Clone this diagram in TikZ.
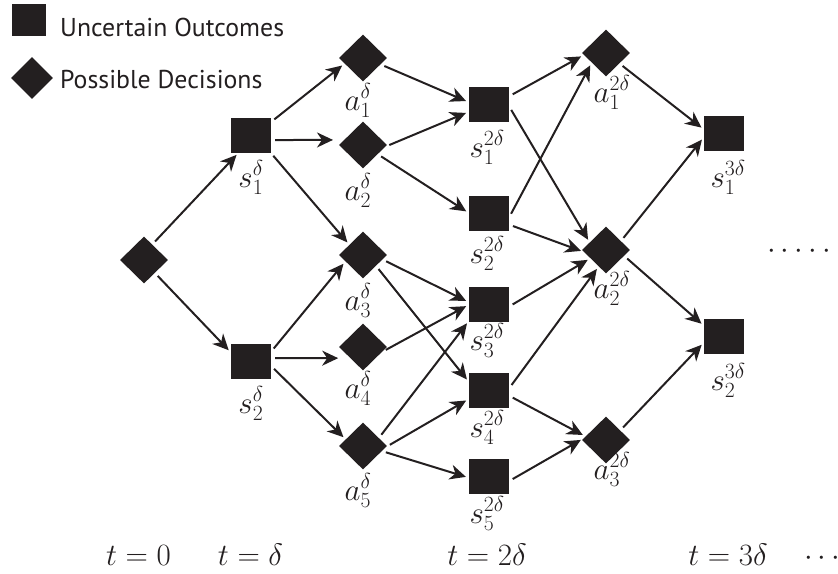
\RequirePackage{fix-cm}
\documentclass[tikz,border=0pt]{standalone}
\usepackage{fontspec}
\newfontfamily\legendfont{PT Sans}
\usetikzlibrary{shapes.geometric,arrows.meta}
\definecolor{ink}{HTML}{231F20}
\tikzset{
  sq/.style={rectangle, fill=ink, minimum width=40pt, minimum height=35pt, inner sep=0pt},
  dm/.style={diamond, fill=ink, minimum width=48pt, minimum height=47pt, inner sep=0pt},
  lbl/.style={font=\fontsize{31}{37}\selectfont, inner sep=0pt, text=ink, anchor=base},
  leg/.style={font=\legendfont\fontsize{25.8}{30}\selectfont, inner sep=0pt, text=ink, anchor=base west},
  arr/.style={draw=ink, line width=2pt, -{Stealth[length=16pt,width=15pt,inset=5pt]}, shorten <=4pt, shorten >=3pt},
}
\begin{document}
\begin{tikzpicture}[x=1pt,y=-1pt]
\clip (0,0) rectangle (838,573);
% legend
\node[sq, minimum width=34pt, minimum height=32pt] (legsq) at (29,20) {};
\node[dm, minimum width=42pt, minimum height=42pt] (legdm) at (32,78) {};
\node[leg] (legt1) at (60,36) {Uncertain Outcomes};
\node[leg] (legt2) at (60,88) {Possible Decisions};
% nodes
\node[dm] (root) at (144,260) {};
\node[sq] (s1) at (251,135) {};
\node[sq] (s2) at (251,361) {};
\node[dm] (a1) at (363,58) {};
\node[dm] (a2) at (363,145) {};
\node[dm] (a3) at (363,255) {};
\node[dm] (a4) at (363,347) {};
\node[dm] (a5) at (363,446) {};
\node[sq] (b1) at (489,104) {};
\node[sq] (b2) at (489,213) {};
\node[sq] (b3) at (489,304) {};
\node[sq] (b4) at (489,390) {};
\node[sq] (b5) at (489,476) {};
\node[dm] (c1) at (606,53) {};
\node[dm] (c2) at (606,250) {};
\node[dm] (c3) at (606,440) {};
\node[sq] (d1) at (724,133) {};
\node[sq] (d2) at (724,336) {};
% labels
\node[lbl] (ls1) at (251,187) {$s_1^\delta$};
\node[lbl] (ls2) at (251,413) {$s_2^\delta$};
\node[lbl] (la1) at (358,110) {$a_1^\delta$};
\node[lbl] (la2) at (358,200) {$a_2^\delta$};
\node[lbl] (la3) at (358,310) {$a_3^\delta$};
\node[lbl] (la4) at (358,398) {$a_4^\delta$};
\node[lbl] (la5) at (358,500) {$a_5^\delta$};
\node[lbl] (lb1) at (487,157) {$s_1^{2\delta}$};
\node[lbl] (lb2) at (487,263) {$s_2^{2\delta}$};
\node[lbl] (lb3) at (487,350) {$s_3^{2\delta}$};
\node[lbl] (lb4) at (487,437) {$s_4^{2\delta}$};
\node[lbl] (lb5) at (487,523) {$s_5^{2\delta}$};
\node[lbl] (lc1) at (612,102) {$a_1^{2\delta}$};
\node[lbl] (lc2) at (612,298) {$a_2^{2\delta}$};
\node[lbl] (lc3) at (612,479) {$a_3^{2\delta}$};
\node[lbl] (ld1) at (728,187) {$s_1^{3\delta}$};
\node[lbl] (ld2) at (728,390) {$s_2^{3\delta}$};
\node[lbl] (dots) at (799,258) {$\cdotp\cdotp\cdotp\cdotp\cdotp$};
% time axis
\node[lbl] (t0) at (138.5,565) {$t=0$};
\node[lbl] (t1) at (250.5,565) {$t=\delta$};
\node[lbl] (t2) at (487,565) {$t=2\delta$};
\node[lbl] (t3) at (728,565) {$t=3\delta$};
\node[lbl, anchor=base west] (tdots) at (804,565) {$\cdots$};
% edges
\draw[arr] (root.62) -- (s1.235);
\draw[arr] (root.310) -- (s2.157);
\draw[arr] (s1.33) -- (a1.197);
\draw[arr, shorten >=11pt] (s1.346) -- (a2.165);
\draw[arr] (s1.318) -- (a3.143);
\draw[arr] (s2.25) -- (a3.200);
\draw[arr, shorten >=12pt] (s2.8) -- (a4.221);
\draw[arr] (s2.346) -- (a5.159);
\draw[arr] (a1.340) -- (b1.175);
\draw[arr] (a2.356) -- (b1.201);
\draw[arr] (a2.328) -- (b2.180);
\draw[arr] (a3.347) -- (b3.175);
\draw[arr] (a3.320) -- (b4.158);
\draw[arr] (a4.346) -- (b3.182);
\draw[arr] (a5.27) -- (b3.220);
\draw[arr] (a5.358) -- (b4.204);
\draw[arr] (a5.345) -- (b5.185);
\draw[arr] (b1.21) -- (c1.185);
\draw[arr] (b1.353) -- (c2.155);
\draw[arr] (b2.348) -- (c1.214);
\draw[arr] (b2.330) -- (c2.185);
\draw[arr] (b3.353) -- (c2.208);
\draw[arr] (b4.5) -- (c2.246);
\draw[arr] (b4.344) -- (c3.170);
\draw[arr] (b5.346) -- (c3.176);
\draw[arr] (c1.322) -- (d1.170);
\draw[arr] (c2.31) -- (d1.192);
\draw[arr] (c2.342) -- (d2.153);
\draw[arr] (c3.34) -- (d2.198);
\end{tikzpicture}
\end{document}
